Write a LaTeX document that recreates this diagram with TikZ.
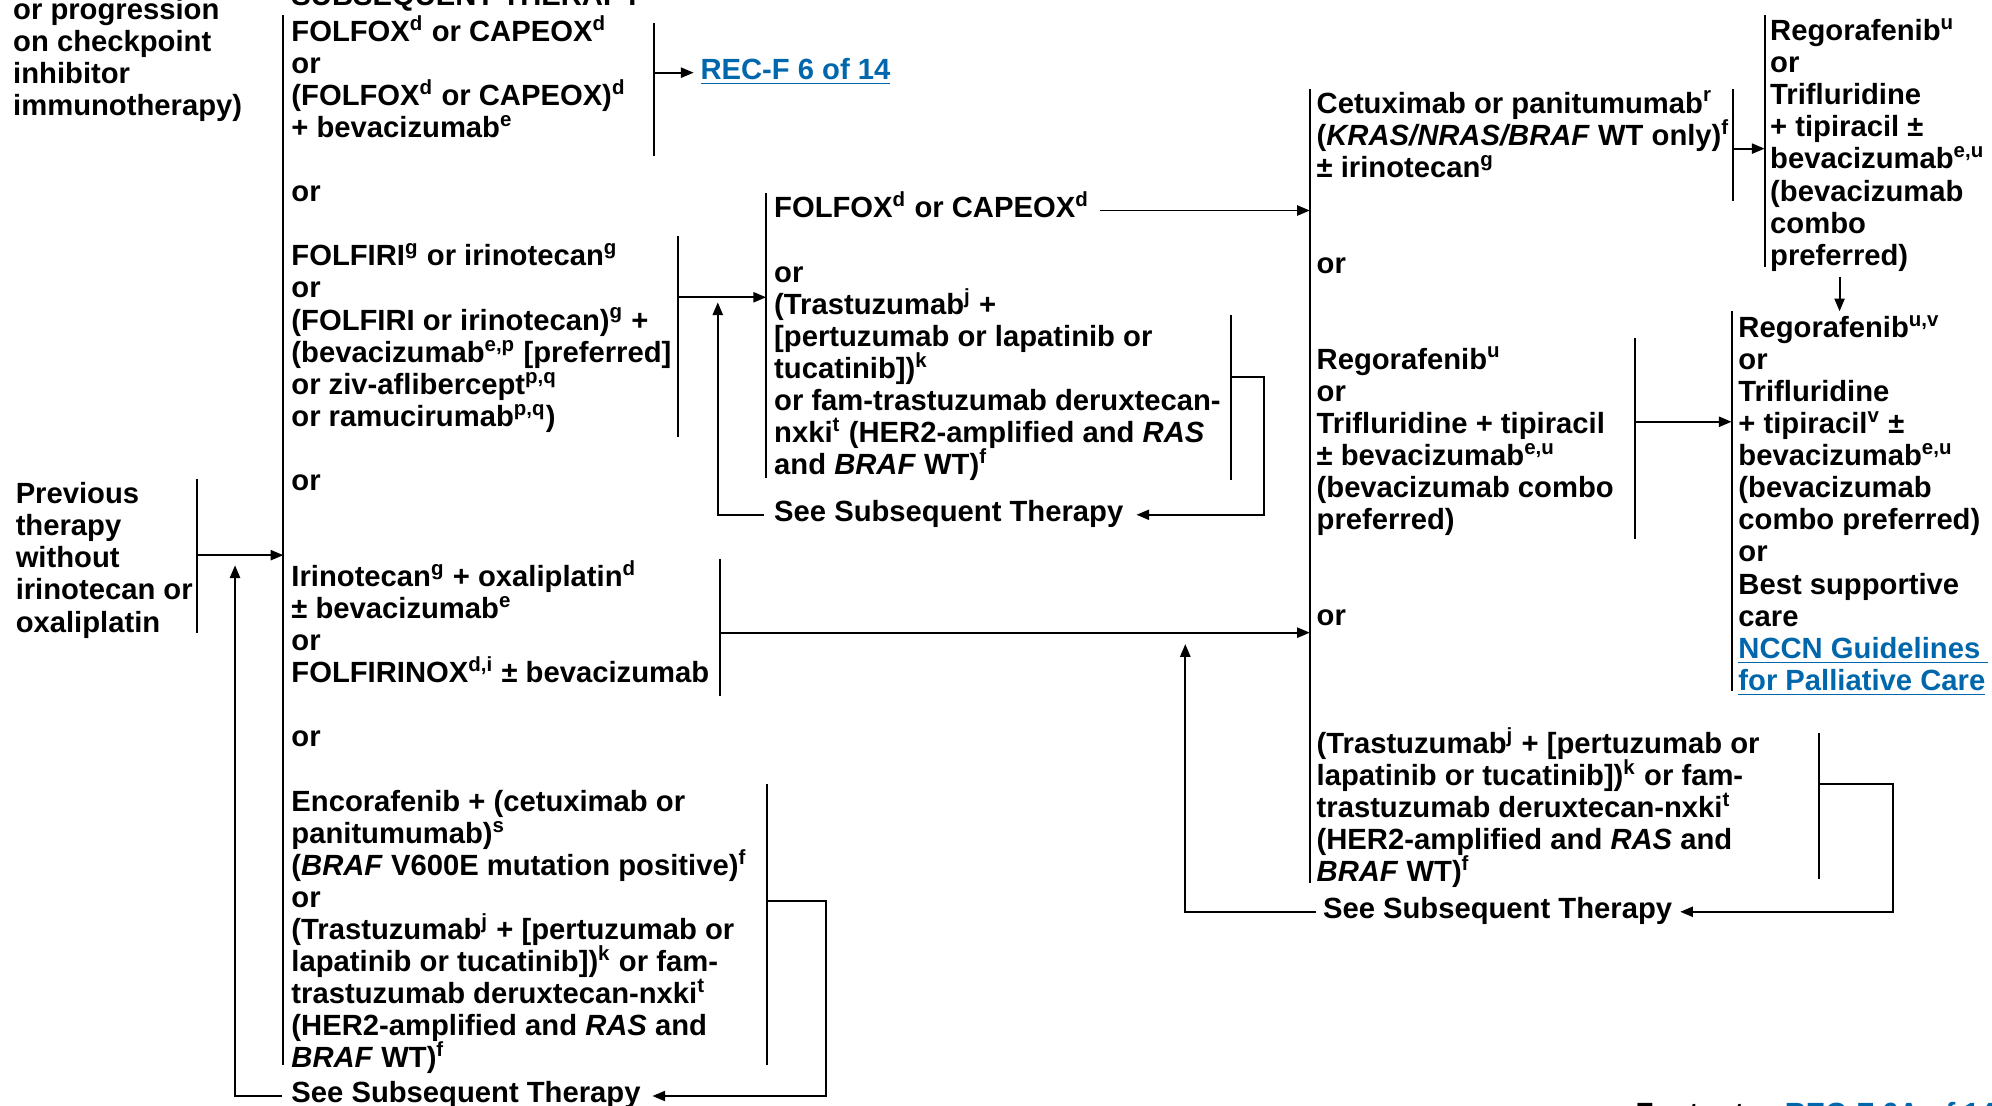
\documentclass[tikz,border=0pt]{standalone}
\usepackage{fontspec}
\setmainfont{Liberation Sans}
\usepackage{xcolor}
\usetikzlibrary{arrows.meta}
\definecolor{nccnblue}{RGB}{0,103,172}
\newcommand{\supr}[1]{\textsuperscript{#1}}
\newcommand{\lnk}[1]{\textcolor{nccnblue}{\underline{#1}}}

\begin{document}
\begin{tikzpicture}
               [x=0.5pt, y=-0.5pt,
                txt/.style = {anchor=base west, inner sep=0pt, align=left, font=\bfseries\fontsize{11.5}{12.63}\selectfont},
                bar/.style = {line width=0.75pt},
                arr/.style = {line width=0.75pt, -{Triangle[length=5pt,width=4pt]}}]
                \useasboundingbox (0,0) rectangle (1568,870);
                \clip (0,0) rectangle (1568,870);
                % Heading and previous therapy (nodes sit on the baseline of their last line)
                \node[txt] (head) at (229,4) {SUBSEQUENT THERAPY};
                \node[txt] (prog) at (10,91.3) {or progression\\on checkpoint\\inhibitor\\immunotherapy)};
                \node[txt] (prev) at (12,497.5) {Previous\\therapy\\without\\irinotecan or\\oxaliplatin};
                % First column of options
                \node[txt] (a1) at (229,108.3) {FOLFOX\supr{d} or CAPEOX\supr{d}\\or\\(FOLFOX\supr{d} or CAPEOX)\supr{d}\\+ bevacizumab\supr{e}};
                \node[txt] (aor1) at (229,158.75) {or};
                \node[txt] (a2) at (229,335.55) {FOLFIRI\supr{g} or irinotecan\supr{g}\\or\\(FOLFIRI or irinotecan)\supr{g} +\\(bevacizumab\supr{e,p} [preferred]\\or ziv-aflibercept\supr{p,q}\\or ramucirumab\supr{p,q})};
                \node[txt] (aor2) at (229,386) {or};
                \node[txt] (a3) at (229,537.5) {Irinotecan\supr{g} + oxaliplatin\supr{d}\\± bevacizumab\supr{e}\\or\\FOLFIRINOX\supr{d,i} ± bevacizumab};
                \node[txt] (aor3) at (229,588) {or};
                \node[txt] (a4) at (229,840.6) {Encorafenib + (cetuximab or\\panitumumab)\supr{s}\\(\textit{BRAF} V600E mutation positive)\supr{f}\\or\\(Trastuzumab\supr{j} + [pertuzumab or\\lapatinib or tucatinib])\supr{k} or fam-\\trastuzumab deruxtecan-nxki\supr{t}\\(HER2-amplified and \textit{RAS} and\\\textit{BRAF} WT)\supr{f}};
                \node[txt] (asee) at (229,868) {See Subsequent Therapy};
                \node[txt] (rec) at (551,62.5) {\lnk{REC-F 6 of 14}};
                % Second column
                \node[txt] (b1) at (609,171) {FOLFOX\supr{d} or CAPEOX\supr{d}};
                \node[txt] (b2) at (609,373.6) {or\\(Trastuzumab\supr{j} +\\{}[pertuzumab or lapatinib or\\tucatinib])\supr{k}\\or fam-trastuzumab deruxtecan-\\nxki\supr{t} (HER2-amplified and \textit{RAS}\\and \textit{BRAF} WT)\supr{f}};
                \node[txt] (bsee) at (609,410.5) {See Subsequent Therapy};
                % Third column
                \node[txt] (c1) at (1036,139.5) {Cetuximab or panitumumab\supr{r}\\(\textit{KRAS/NRAS/BRAF} WT only)\supr{f}\\± irinotecan\supr{g}};
                \node[txt] (cor1) at (1036,215) {or};
                \node[txt] (c2) at (1036,416.8) {Regorafenib\supr{u}\\or\\Trifluridine + tipiracil\\± bevacizumab\supr{e,u}\\(bevacizumab combo\\preferred)};
                \node[txt] (cor2) at (1036,492) {or};
                \node[txt] (c3) at (1036,694) {(Trastuzumab\supr{j} + [pertuzumab or\\lapatinib or tucatinib])\supr{k} or fam-\\trastuzumab deruxtecan-nxki\supr{t}\\(HER2-amplified and \textit{RAS} and\\\textit{BRAF} WT)\supr{f}};
                \node[txt] (csee) at (1041,723) {See Subsequent Therapy};
                % Last options
                \node[txt] (d) at (1393,208.8) {Regorafenib\supr{u}\\or\\Trifluridine\\+ tipiracil ±\\bevacizumab\supr{e,u}\\(bevacizumab\\combo\\preferred)};
                \node[txt] (e) at (1368,543.4) {Regorafenib\supr{u,v}\\or\\Trifluridine\\+ tipiracil\supr{v} ±\\bevacizumab\supr{e,u}\\(bevacizumab\\combo preferred)\\or\\Best supportive\\care\\\lnk{NCCN Guidelines\ }\\\lnk{for Palliative Care}};
                \node[txt] (foot) at (1287,884) {Footnotes \textcolor{nccnblue}{REC-F 6A of 14}};
                % Bars
                \draw[bar] (155,377) coordinate (pbar) -- (155,498);
                \draw[bar] (223,12) coordinate (abar) -- (223,838);
                \draw[bar] (515,18) coordinate (a1r) -- (515,123);
                \draw[bar] (534,186) coordinate (a2r) -- (534,344);
                \draw[bar] (567,440) coordinate (a3r) -- (567,548);
                \draw[bar] (604,617) coordinate (a4r) -- (604,838);
                \draw[bar] (603,152) coordinate (bbar) -- (603,376);
                \draw[bar] (969,248) coordinate (b2r) -- (969,378);
                \draw[bar] (1031,70) coordinate (cbar) -- (1031,695);
                \draw[bar] (1364,70) coordinate (c1r) -- (1364,158);
                \draw[bar] (1287,266) coordinate (c2r) -- (1287,424);
                \draw[bar] (1432,577) coordinate (c3r) -- (1432,692);
                \draw[bar] (1389,12) coordinate (dbar) -- (1389,210);
                \draw[bar] (1363,245) coordinate (ebar) -- (1363,544);
                % Turning points
                \coordinate (pv) at (155,437);
                \coordinate (bin) at (603,234);
                \coordinate (bup) at (565,238);
                \coordinate (bk) at (995,297);
                \coordinate (cin) at (1031,498);
                \coordinate (ak) at (650,709);
                \coordinate (aup) at (185,445);
                \coordinate (din) at (1389,117);
                \coordinate (dd) at (1448,218);
                \coordinate (ein) at (1363,332);
                \coordinate (ck) at (1490,617);
                \coordinate (cup) at (933,507);
                % Arrows
                \path[arr] (pv) edge (pv -| abar);
                \draw[arr, shorten >=2.5pt] (a1r |- rec.mid west) -- (rec.mid west);
                \path[arr] (a2r |- bin) edge (bin);
                \draw[arr, shorten <=4pt] (bsee.mid west) -| (bup);
                \draw[arr, shorten >=5pt] (b2r |- bk) -- (bk) |- (bsee.mid east);
                \draw[arr, shorten <=4pt] (b1.mid east) -- (b1.mid east -| cbar);
                \path[arr] (a3r |- cin) edge (cin);
                \draw[arr, shorten >=4.5pt] (a4r |- ak) -- (ak) |- (asee.mid east);
                \draw[arr, shorten <=3.5pt] (asee.mid west) -| (aup);
                \path[arr] (c1r |- din) edge (din);
                \path[arr] (dd) edge (dd |- ebar);
                \path[arr] (c2r |- ein) edge (ein);
                \draw[arr, shorten >=3pt] (c3r |- ck) -- (ck) |- (csee.mid east);
                \draw[arr, shorten <=2.5pt] (csee.mid west) -| (cup);
            \end{tikzpicture}
\end{document}
